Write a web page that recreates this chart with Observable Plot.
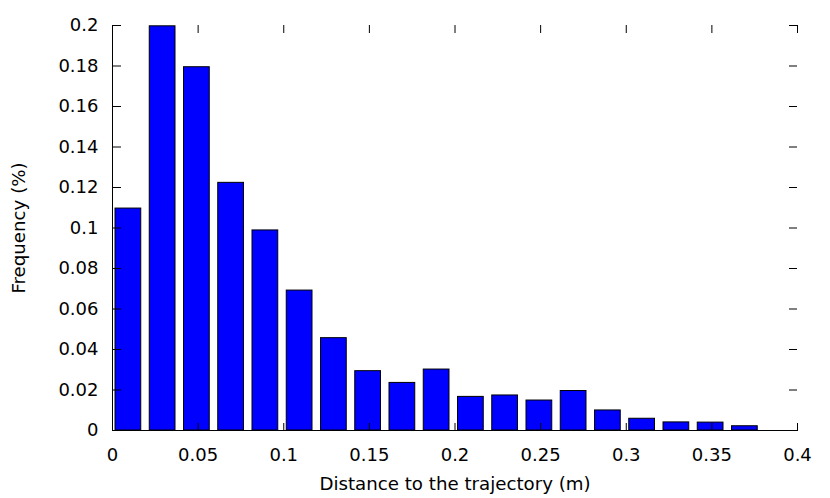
<!DOCTYPE html>
<html><head><meta charset="utf-8">
<script src="https://cdn.jsdelivr.net/npm/d3@7"></script>
<script src="https://cdn.jsdelivr.net/npm/@observablehq/plot@0.6"></script>
<style>body{margin:0;background:#fff} svg{font-family:"DejaVu Sans"}</style>
</head><body><div id="chart"></div>
<script>
const binStart = [0, 0.02, 0.04, 0.06, 0.08, 0.10, 0.12, 0.14, 0.16, 0.18, 0.20, 0.22, 0.24, 0.26, 0.28, 0.30, 0.32, 0.34, 0.36];
const frequency = [0.1096, 0.1996, 0.1794, 0.1223, 0.0988, 0.0691, 0.0456, 0.0293, 0.0235, 0.0301, 0.0166, 0.0173, 0.0148, 0.0195, 0.0099, 0.0058, 0.0040, 0.0039, 0.0021];
const binWidth = 0.02;
const xTicks = [0, 0.05, 0.1, 0.15, 0.2, 0.25, 0.3, 0.35, 0.4];
const yTicks = [0, 0.02, 0.04, 0.06, 0.08, 0.1, 0.12, 0.14, 0.16, 0.18, 0.2];
const xLabel = "Distance to the trajectory (m)";
const yLabel = "Frequency (%)";

const W = 830, H = 498, mL = 112, mR = 33, mT = 25, mB = 68;
const pw = W - mL - mR, ph = H - mT - mB;
const data = binStart.map((s, i) => ({x1: s, x2: s + binWidth, y: frequency[i]}));
const fmt = d => String(+d.toFixed(2));
const blank = () => "";

const chart = Plot.plot({
  width: W, height: H,
  marginLeft: mL, marginRight: mR, marginTop: mT, marginBottom: mB,
  x: {domain: [0, 0.4]},
  y: {domain: [0, 0.2]},
  style: {fontFamily: "DejaVu Sans", fontSize: "18px", color: "#000", background: "#fff", overflow: "visible"},
  marks: [
    Plot.rectY(data, {x1: "x1", x2: "x2", y: "y", fill: "#0000ff", stroke: "#000", strokeWidth: 1, insetLeft: 3, insetRight: 5.5}),
    Plot.ruleX([0], {stroke: "#000"}),
    Plot.ruleY([0], {stroke: "#000"}),
    // labels
    Plot.axisX(xTicks, {anchor: "bottom", tickSize: 0, tickPadding: 18, tickFormat: fmt, label: null, fontSize: 18}),
    Plot.axisY(yTicks, {anchor: "left", tickSize: 0, tickPadding: 14, tickFormat: fmt, label: null, fontSize: 18}),
    // inward ticks
    Plot.axisX(xTicks, {anchor: "top", tickSize: 8, tickFormat: blank, label: null, dy: ph, stroke: "#000"}),
    Plot.axisX(xTicks, {anchor: "bottom", tickSize: 8, tickFormat: blank, label: null, dy: -ph, stroke: "#000"}),
    Plot.axisY(yTicks, {anchor: "right", tickSize: 8, tickFormat: blank, label: null, dx: -pw, stroke: "#000"}),
    Plot.axisY(yTicks, {anchor: "left", tickSize: 8, tickFormat: blank, label: null, dx: pw, stroke: "#000"}),
    // axis titles
    Plot.text([xLabel], {frameAnchor: "bottom", dy: 59, text: d => d, fontSize: 18.2, textAnchor: "middle"}),
    Plot.text([yLabel], {frameAnchor: "left", dx: -93, rotate: -90, text: d => d, fontSize: 18.2, textAnchor: "middle"})
  ]
});
document.getElementById("chart").append(chart);
</script>
</body></html>
